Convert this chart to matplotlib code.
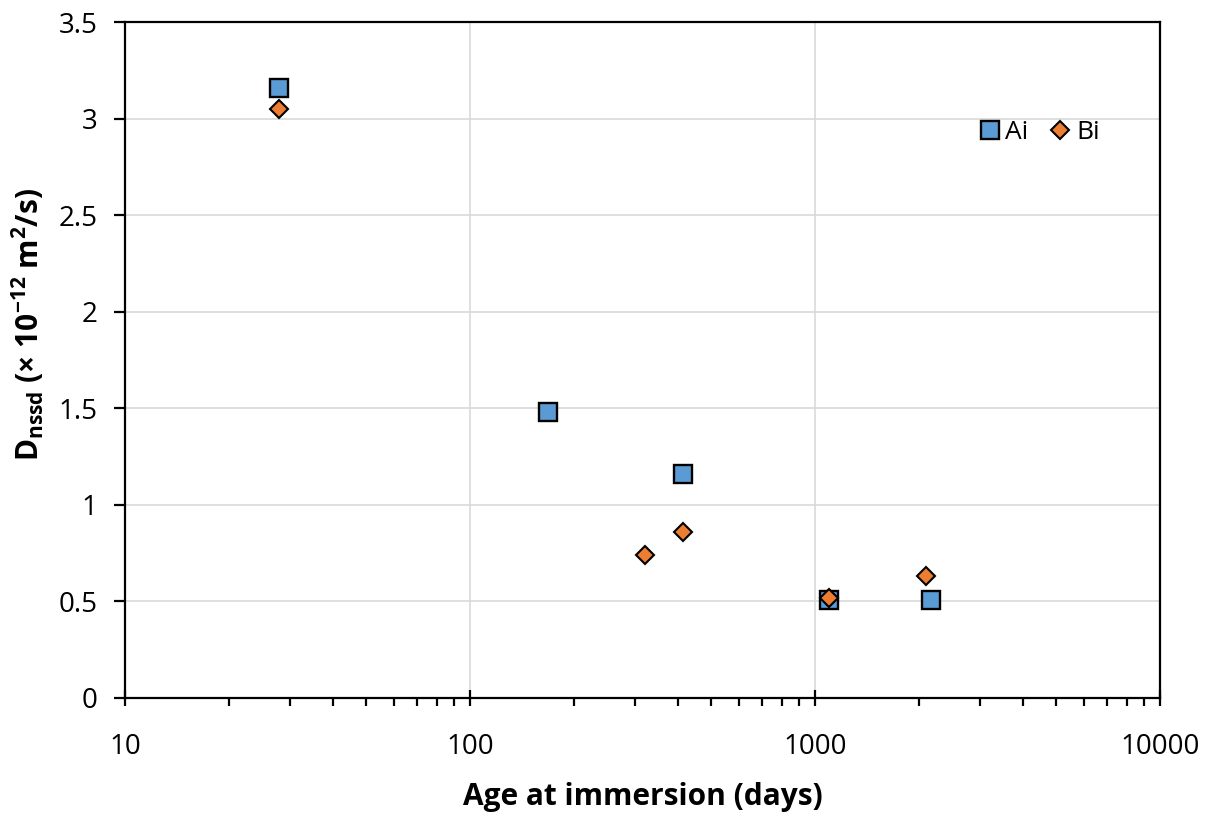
import matplotlib
matplotlib.use("Agg")
import matplotlib.pyplot as plt
from matplotlib.ticker import LogLocator, FixedLocator, NullFormatter, FixedFormatter

ai_x = [28, 168, 414, 1100, 2170]
ai_y = [3.16, 1.48, 1.16, 0.51, 0.51]
bi_x = [28, 321, 414, 1100, 2100]
bi_y = [3.05, 0.74, 0.86, 0.52, 0.63]
x_ticks = [10, 100, 1000, 10000]
x_tick_labels = ["10", "100", "1000", "10000"]
y_ticks = [0, 0.5, 1, 1.5, 2, 2.5, 3, 3.5]
y_tick_labels = ["0", "0.5", "1", "1.5", "2", "2.5", "3", "3.5"]

plt.rcParams['font.family'] = ['Open Sans', 'DejaVu Sans']
plt.rcParams['mathtext.fontset'] = 'custom'
plt.rcParams['mathtext.rm'] = 'Open Sans:bold'
plt.rcParams['mathtext.bf'] = 'Open Sans:bold'
plt.rcParams['mathtext.it'] = 'Open Sans:bold'

fig = plt.figure(figsize=(12.2, 8.18), dpi=100)
ax = fig.add_axes([0.1025, 0.1467, 0.8485, 0.8263])

ax.set_xscale('log')
ax.set_xlim(10, 10000)
ax.set_ylim(0, 3.5)

ax.grid(True, which='major', color='#d9d9d9', linewidth=1.2)
ax.set_axisbelow(True)

ax.plot(ai_x, ai_y, linestyle='none', marker='s', markersize=13.5, markerfacecolor='#5B9BD5',
        markeredgecolor='black', markeredgewidth=1.7, label='Ai', zorder=3)
ax.plot(bi_x, bi_y, linestyle='none', marker='D', markersize=9, markerfacecolor='#ED7D31',
        markeredgecolor='black', markeredgewidth=1.5, label='Bi', zorder=4)

ax.xaxis.set_major_locator(FixedLocator(x_ticks))
ax.xaxis.set_major_formatter(FixedFormatter(x_tick_labels))
ax.xaxis.set_minor_locator(LogLocator(base=10, subs=range(2, 10)))
ax.xaxis.set_minor_formatter(NullFormatter())
ax.yaxis.set_major_locator(FixedLocator(y_ticks))
ax.yaxis.set_major_formatter(FixedFormatter(y_tick_labels))

for s in ax.spines.values():
    s.set_linewidth(1.6)
    s.set_color('black')

ax.tick_params(axis='x', which='major', direction='inout', length=11, width=1.6,
               labelsize=20, pad=20)
ax.tick_params(axis='x', which='minor', direction='out', length=6, width=1.6)
ax.tick_params(axis='y', which='major', direction='out', length=8, width=1.6,
               labelsize=20, pad=12)

ax.set_xlabel('Age at immersion (days)', fontsize=21.5, fontweight='bold')
ax.xaxis.set_label_coords(0.5, -0.125)
ax.set_ylabel(r'$\mathbf{D_{nssd}}$ (× 10$^{\mathbf{-12}}$ m$^{\mathbf{2}}$/s)', fontsize=21.5,
              fontweight='bold')
ax.yaxis.set_label_coords(-0.076, 0.553)

leg = ax.legend(loc='center', bbox_to_anchor=(0.882, 0.837), ncol=2, frameon=False,
                fontsize=19, handletextpad=0.1, columnspacing=0.7, handlelength=1.0,
                borderaxespad=0, borderpad=0)

fig.savefig('out.png', dpi=100)
